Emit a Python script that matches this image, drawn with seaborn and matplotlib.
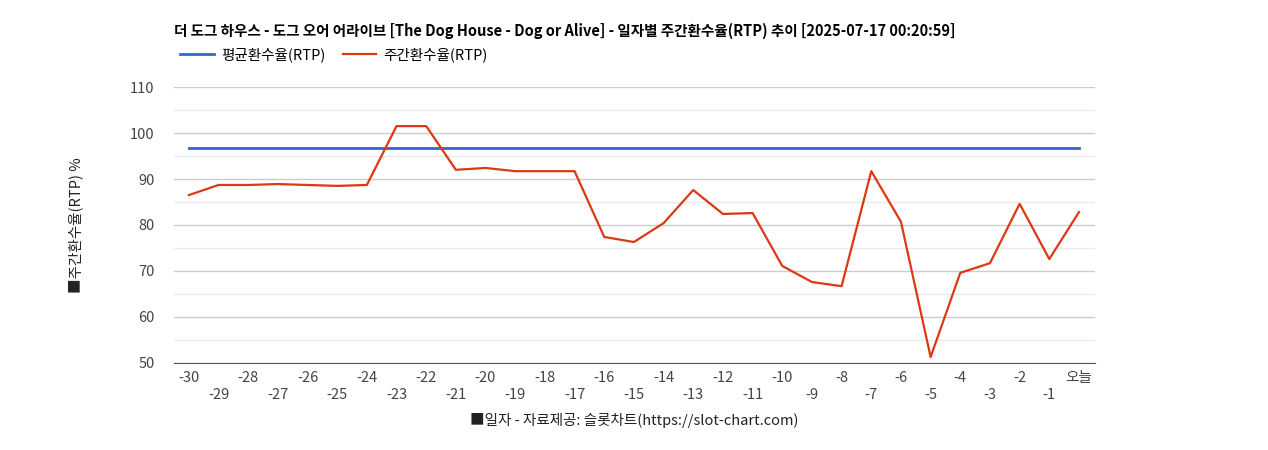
import matplotlib
matplotlib.use("Agg")
import matplotlib.pyplot as plt
from matplotlib import font_manager as fm
import seaborn as sns
import pandas as pd

cjk = [f.name for f in fm.fontManager.ttflist if "CJK" in f.name]
pref = [n for n in ["Noto Sans CJK KR", "Noto Sans CJK JP", "Noto Sans CJK SC"] if n in cjk] + cjk
plt.rcParams["font.family"] = (pref[:1] if pref else []) + ["DejaVu Sans"]

days = [str(d) for d in range(-30, 0)] + ["오늘"]
weekly_rtp = [86.5, 88.7, 88.7, 88.9, 88.7, 88.5, 88.7, 101.5, 101.5, 92.0, 92.4, 91.7, 91.7, 91.7,
              77.4, 76.3, 80.4, 87.6, 82.4, 82.6, 71.1, 67.6, 66.7, 91.7, 80.7, 51.3, 69.6, 71.7,
              84.6, 72.6, 82.8]
avg_rtp = [96.7] * len(days)
yticks = [50, 60, 70, 80, 90, 100, 110]

df = pd.DataFrame({"idx": range(len(days)), "avg": avg_rtp, "week": weekly_rtp})

fig = plt.figure(figsize=(12.68, 4.5), dpi=100)
ax = fig.add_axes([174/1268, 1-363/450, (1095-174)/1268, (363-87)/450])
sns.lineplot(data=df, x="idx", y="avg", ax=ax, color="#3366cc", lw=2, label="평균환수율(RTP)")
sns.lineplot(data=df, x="idx", y="week", ax=ax, color="#dc3912", lw=1.6, label="주간환수율(RTP)")

ax.set_xlim(-0.5, len(days) - 0.46)
ax.set_ylim(50, 110)
ax.set_yticks(yticks)
ax.set_yticks([55, 65, 75, 85, 95, 105], minor=True)
ax.grid(axis="y", which="major", color="#cccccc", lw=1)
ax.grid(axis="y", which="minor", color="#ebebeb", lw=1)
ax.set_axisbelow(True)
ax.set_xticks(range(len(days)))
ax.set_xticklabels([d if i % 2 == 0 else "\n" + d for i, d in enumerate(days)])
ax.tick_params(axis="both", which="both", length=0, labelsize=10.5, colors="#444444")
ax.tick_params(axis="y", pad=14)
ax.tick_params(axis="x", pad=6)
for s in ax.spines.values():
    s.set_visible(False)
ax.spines["bottom"].set_visible(True)
ax.spines["bottom"].set_color("#555555")

ax.set_xlabel("■일자 - 자료제공: 슬롯차트(https://slot-chart.com)", fontsize=10.5, style="italic", color="#222222", labelpad=8)
ax.set_ylabel("■주간환수율(RTP) %", fontsize=10.5, style="italic", color="#222222", labelpad=34)

fig.text(174/1268, 1-31/450, "더 도그 하우스 - 도그 오어 어라이브 [The Dog House - Dog or Alive] - 일자별 주간환수율(RTP) 추이 [2025-07-17 00:20:59]",
         fontsize=10.5, fontweight="bold", va="center", ha="left")
ax.legend(loc="lower left", bbox_to_anchor=(-0.003, 1.06), ncol=2, frameon=False, fontsize=10.5,
          handlelength=2.3, columnspacing=1.2, borderaxespad=0.2, handletextpad=0.5)

fig.savefig("out.png", dpi=100, facecolor="white")
